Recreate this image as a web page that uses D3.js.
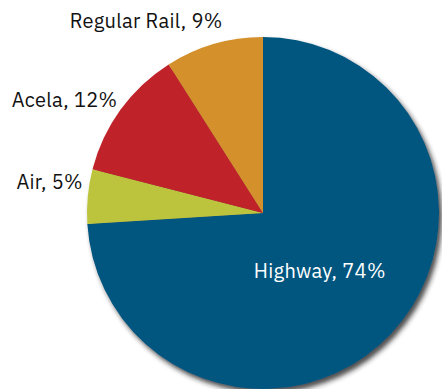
<!DOCTYPE html>
<html>
<head>
<meta charset="utf-8">
<script src="https://cdn.jsdelivr.net/npm/d3@7"></script>
<style>
html,body{margin:0;padding:0;background:#fff;}
svg{display:block;}
text{font-family:"IBM Plex Sans","Noto Sans","Open Sans",sans-serif;}
</style>
</head>
<body>
<svg id="chart" width="442" height="389"></svg>
<script>
const categories = ["Highway", "Air", "Acela", "Regular Rail"];
const shares = [74, 5, 12, 9];
const colors = ["#05567f", "#bcc43d", "#c0222b", "#d4902b"];
const labelColors = ["#ffffff", "#111111", "#111111", "#111111"];

const W = 442, H = 389;
const cx = 263, cy = 213, R = 176;

const svg = d3.select("#chart");
const defs = svg.append("defs");
const f = defs.append("filter").attr("id", "shadow")
  .attr("x", "-20%").attr("y", "-20%").attr("width", "140%").attr("height", "140%");
f.append("feDropShadow").attr("dx", 3).attr("dy", 4).attr("stdDeviation", 2.5)
  .attr("flood-color", "#222").attr("flood-opacity", 0.8);

const data = categories.map((c, i) => ({cat: c, value: shares[i], color: colors[i], lc: labelColors[i]}));
const pie = d3.pie().sort(null).value(d => d.value);
const arcs = pie(data);
const arc = d3.arc().innerRadius(0).outerRadius(R);

const g = svg.append("g").attr("transform", `translate(${cx},${cy})`);
const slices = g.append("g").attr("filter", "url(#shadow)");
slices.selectAll("path").data(arcs).join("path")
  .attr("d", arc)
  .attr("fill", d => d.data.color);

// label layout: radius along slice mid-angle, anchor, and nudges
const labelRadius = [82, 180, 180, 186];
const anchors = ["middle", "end", "end", "middle"];
const nudgeX = [-3, -1, 0, -65];
const nudgeY = [9, -7, 0, -6];

g.selectAll("text.lbl").data(arcs).join("text")
  .attr("class", "lbl")
  .attr("x", (d, i) => { const a = (d.startAngle + d.endAngle) / 2; return Math.sin(a) * labelRadius[i] + nudgeX[i]; })
  .attr("y", (d, i) => { const a = (d.startAngle + d.endAngle) / 2; return -Math.cos(a) * labelRadius[i] + nudgeY[i]; })
  .attr("text-anchor", (d, i) => anchors[i])
  .attr("font-size", 20)
  .attr("letter-spacing", 0.3)
  .attr("fill", d => d.data.lc)
  .text(d => `${d.data.cat}, ${d.data.value}%`);
</script>
</body>
</html>
